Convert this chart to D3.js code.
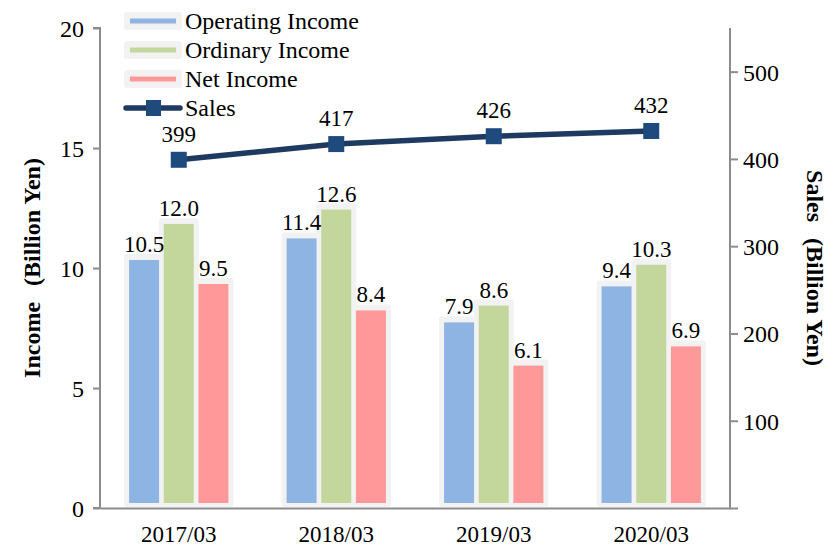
<!DOCTYPE html>
<html>
<head>
<meta charset="utf-8">
<script src="https://cdn.jsdelivr.net/npm/d3@7"></script>
<style>
  body { margin: 0; background: #fff; }
</style>
</head>
<body>
<svg id="chart" width="834" height="548"></svg>
<script>
// data
const years = ["2017/03", "2018/03", "2019/03", "2020/03"];
const operatingIncome = [10.5, 11.4, 7.9, 9.4];
const ordinaryIncome = [12.0, 12.6, 8.6, 10.3];
const netIncome = [9.5, 8.4, 6.1, 6.9];
const sales = [399, 417, 426, 432];
const leftTicks = [0, 5, 10, 15, 20];
const rightTicks = [100, 200, 300, 400, 500];

const series = [
  { name: "Operating Income", values: operatingIncome, color: "#8eb4e3" },
  { name: "Ordinary Income", values: ordinaryIncome, color: "#c3d69b" },
  { name: "Net Income", values: netIncome, color: "#ff9999" }
];

const svg = d3.select("#chart");
const plotLeft = 100, plotRight = 730, plotTop = 28, plotBottom = 508;
const axisColor = "#8c8c8c";
const serif = '"Liberation Serif", "Times New Roman", serif';

const x = d3.scaleBand().domain(years).range([plotLeft, plotRight]).padding(0);
const xInner = d3.scaleBand().domain(series.map(d => d.name)).range([-52, 52]).padding(0);
const y = d3.scaleLinear().domain([0, 20]).range([plotBottom, plotTop]);
const y2 = d3.scaleLinear().domain([0, 550]).range([plotBottom, plotTop]);

// bars (glow + fill), labels drawn afterwards so they sit on top
const bw = 30;
const barData = [];
series.forEach(s => s.values.forEach((v, i) => {
  barData.push({ v, color: s.color,
    cx: x(years[i]) + x.bandwidth() / 2 + xInner(s.name) + xInner.bandwidth() / 2 });
}));

const bars = svg.append("g");
barData.forEach(d => {
  bars.append("rect")
    .attr("x", d.cx - bw / 2 - 5).attr("y", y(d.v) - 2)
    .attr("width", bw + 10).attr("height", plotBottom - 1 - (y(d.v) - 2))
    .attr("rx", 3)
    .attr("fill", "#f2f2f2");
});
barData.forEach(d => {
  bars.append("rect")
    .attr("x", d.cx - bw / 2).attr("y", y(d.v) + 4)
    .attr("width", bw).attr("height", plotBottom - 5 - (y(d.v) + 4))
    .attr("fill", d.color);
});
svg.append("g").selectAll("text")
  .data(barData).enter()
  .append("text")
  .attr("x", d => d.cx).attr("y", d => y(d.v) - 4)
  .attr("text-anchor", "middle")
  .attr("font-size", 23)
  .text(d => d.v.toFixed(1));

// axes
const leftAxis = svg.append("g")
  .attr("transform", `translate(${plotLeft},0)`)
  .call(d3.axisLeft(y).tickValues(leftTicks).tickSize(7).tickPadding(9));
leftAxis.selectAll("text").attr("font-size", 24).attr("dy", "0.35em");

const rightAxis = svg.append("g")
  .attr("transform", `translate(${plotRight},0)`)
  .call(d3.axisRight(y2).tickValues([0].concat(rightTicks)).tickSize(8).tickPadding(5)
    .tickFormat(d => d === 0 ? "" : d));
rightAxis.selectAll("text").attr("font-size", 24).attr("dy", "0.35em");

const bottomAxis = svg.append("g")
  .attr("transform", `translate(0,${plotBottom})`)
  .call(d3.axisBottom(x).tickSize(0).tickPadding(18));
bottomAxis.selectAll("text").attr("font-size", 23).attr("dy", "0.71em");

[leftAxis, rightAxis, bottomAxis].forEach(a => {
  a.selectAll("path").attr("stroke", axisColor).attr("stroke-width", 2);
  a.selectAll("line").attr("stroke", axisColor).attr("stroke-width", 2);
  a.selectAll("text").attr("fill", "#000");
});
leftAxis.select(".domain").attr("d", `M-7,${plotTop}H0V${plotBottom}H-7`);
rightAxis.select(".domain").attr("d", `M0,${plotTop}V${plotBottom}`);

// sales line
const line = d3.line()
  .x((d, i) => x(years[i]) + x.bandwidth() / 2)
  .y(d => y2(d));
svg.append("path")
  .datum(sales)
  .attr("d", line)
  .attr("fill", "none")
  .attr("stroke", "#1f3a60")
  .attr("stroke-width", 5.5);
svg.append("g").selectAll("rect")
  .data(sales).enter()
  .append("rect")
  .attr("x", (d, i) => x(years[i]) + x.bandwidth() / 2 - 8)
  .attr("y", d => y2(d) - 8)
  .attr("width", 16).attr("height", 16)
  .attr("fill", "#1f4a7e");
svg.append("g").selectAll("text")
  .data(sales).enter()
  .append("text")
  .attr("x", (d, i) => x(years[i]) + x.bandwidth() / 2)
  .attr("y", d => y2(d) - 18)
  .attr("text-anchor", "middle")
  .attr("font-size", 23)
  .text(d => d);

// axis titles
svg.append("text")
  .attr("transform", `translate(40,${(plotTop + plotBottom) / 2}) rotate(-90)`)
  .attr("text-anchor", "middle")
  .attr("font-size", 24).attr("font-weight", "bold")
  .html('Income<tspan dx="16">(Billion Yen)</tspan>');
svg.append("text")
  .attr("transform", `translate(807,${(plotTop + plotBottom) / 2}) rotate(90)`)
  .attr("text-anchor", "middle")
  .attr("font-size", 24).attr("font-weight", "bold")
  .html('Sales<tspan dx="16">(Billion Yen)</tspan>');

// legend
const legend = svg.append("g").attr("transform", "translate(124,0)");
const rowY = [21, 50, 79, 108];
series.forEach((s, i) => {
  legend.append("rect")
    .attr("x", 0).attr("y", rowY[i] - 9).attr("width", 58).attr("height", 18)
    .attr("rx", 3).attr("fill", "#f2f2f2");
  legend.append("line")
    .attr("x1", 6).attr("x2", 52).attr("y1", rowY[i]).attr("y2", rowY[i])
    .attr("stroke", s.color).attr("stroke-width", 5);
  legend.append("text")
    .attr("x", 61).attr("y", rowY[i] + 8)
    .attr("font-size", 24).text(s.name);
});
legend.append("line")
  .attr("x1", 2).attr("x2", 56).attr("y1", rowY[3]).attr("y2", rowY[3])
  .attr("stroke", "#1f3a60").attr("stroke-width", 5.5).attr("stroke-linecap", "round");
legend.append("rect")
  .attr("x", 22).attr("y", rowY[3] - 8).attr("width", 15).attr("height", 16)
  .attr("fill", "#1f4a7e");
legend.append("text")
  .attr("x", 61).attr("y", rowY[3] + 8)
  .attr("font-size", 24).text("Sales");

// every text in the serif face
svg.selectAll("text").attr("font-family", serif).style("font-family", serif);
svg.selectAll("g").attr("font-family", serif);
</script>
</body>
</html>
